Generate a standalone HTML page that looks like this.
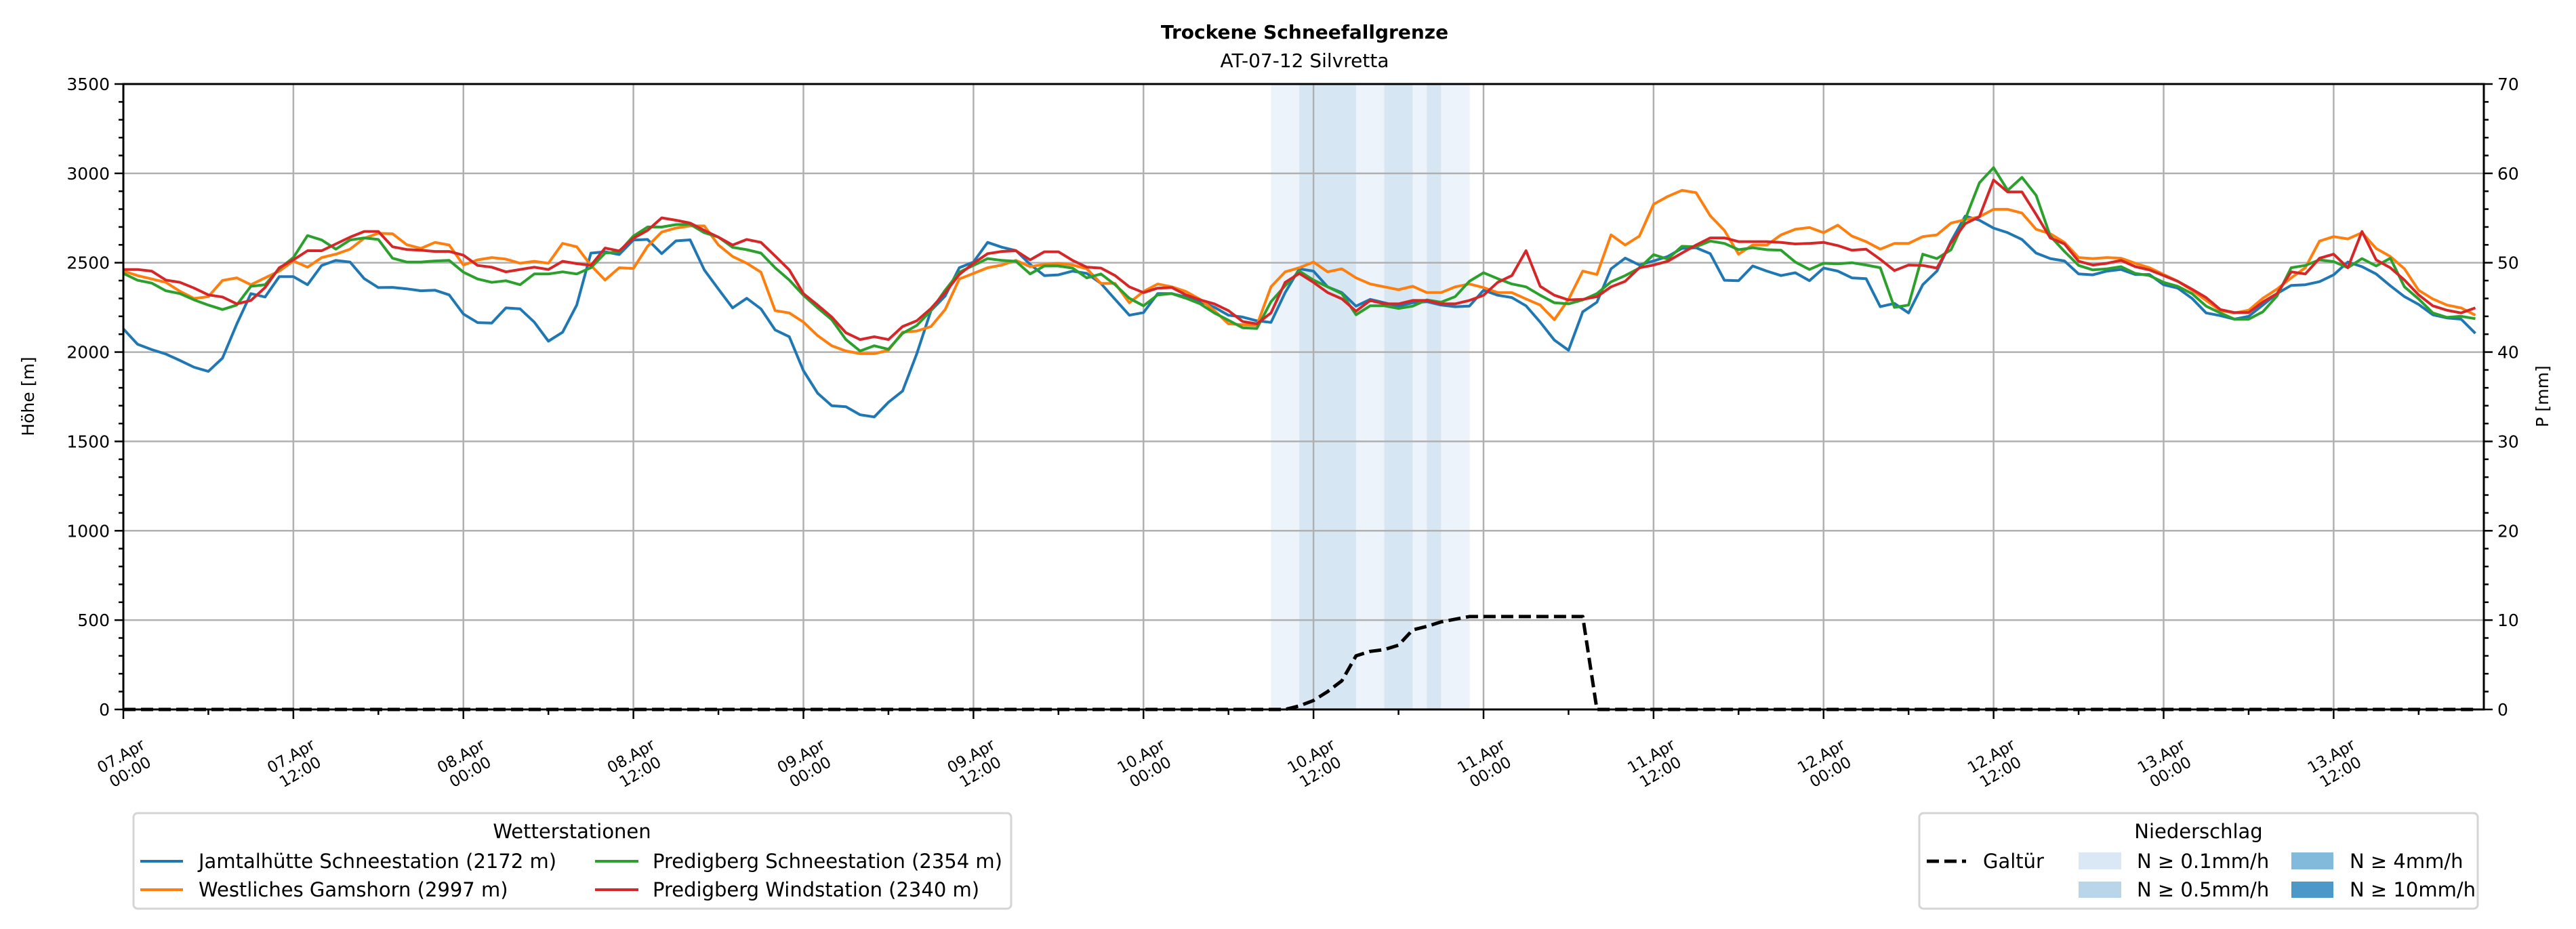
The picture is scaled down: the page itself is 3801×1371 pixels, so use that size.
<!DOCTYPE html>
<html><head><meta charset="utf-8">
<style>
html,body{margin:0;padding:0;background:#fff;}
svg{display:block;font-family:"DejaVu Sans","Liberation Sans",sans-serif;}
</style></head>
<body>
<svg id="chart" xmlns="http://www.w3.org/2000/svg" width="3801" height="1371" viewBox="0 0 3801 1371">
<rect x="0" y="0" width="3801" height="1371" fill="#fff"/>
<text x="1925" y="57" text-anchor="middle" font-size="28" font-weight="bold">Trockene Schneefallgrenze</text>
<text x="1925" y="99" text-anchor="middle" font-size="28">AT-07-12 Silvretta</text>
<g id="bands"></g>
<g id="grid"></g>
<g id="series"></g>
<g id="axes"></g>
<text transform="translate(50,585) rotate(-90)" text-anchor="middle" font-size="25">Höhe [m]</text>
<text transform="translate(3760,585) rotate(-90)" text-anchor="middle" font-size="25">P [mm]</text>

<g>
<rect x="197" y="1200" width="1295" height="141" rx="6" fill="#fff" stroke="#d5d5d5" stroke-width="3"/>
<text x="844" y="1237" text-anchor="middle" font-size="29">Wetterstationen</text>
<g><line x1="207" y1="1271" x2="270" y2="1271" stroke="#1f77b4" stroke-width="4"/><text x="293" y="1281" font-size="29">Jamtalhütte Schneestation (2172 m)</text></g>
<g><line x1="207" y1="1313" x2="270" y2="1313" stroke="#ff7f0e" stroke-width="4"/><text x="293" y="1323" font-size="29">Westliches Gamshorn (2997 m)</text></g>
<g><line x1="878" y1="1271" x2="942" y2="1271" stroke="#2ca02c" stroke-width="4"/><text x="963" y="1281" font-size="29">Predigberg Schneestation (2354 m)</text></g>
<g><line x1="878" y1="1313" x2="942" y2="1313" stroke="#d62728" stroke-width="4"/><text x="963" y="1323" font-size="29">Predigberg Windstation (2340 m)</text></g>
</g>

<g>
<rect x="2832" y="1200" width="824" height="141" rx="6" fill="#fff" stroke="#d5d5d5" stroke-width="3"/>
<text x="3244" y="1237" text-anchor="middle" font-size="29">Niederschlag</text>
<g><line x1="2843" y1="1271" x2="2901" y2="1271" stroke="#000" stroke-width="5" stroke-dasharray="18,8"/><text x="2926" y="1281" font-size="29">Galtür</text></g>
<g><rect x="3067" y="1258" width="63" height="25" fill="#dae8f5"/><text x="3153" y="1281" font-size="29">N ≥ 0.1mm/h</text></g>
<g><rect x="3067" y="1301" width="63" height="24" fill="#b8d5ea"/><text x="3153" y="1323" font-size="29">N ≥ 0.5mm/h</text></g>
<g><rect x="3381" y="1258" width="62" height="25" fill="#82badb"/><text x="3467" y="1281" font-size="29">N ≥ 4mm/h</text></g>
<g><rect x="3381" y="1301" width="62" height="24" fill="#4b98c9"/><text x="3467" y="1323" font-size="29">N ≥ 10mm/h</text></g>
</g>
</svg>
<script>
const jamtal = [2130,2044,2014,1989,1953,1915,1892,1966,2156,2327,2308,2422,2422,2377,2485,2513,2504,2411,2361,2362,2354,2343,2346,2320,2213,2165,2162,2247,2242,2168,2061,2111,2263,2554,2561,2546,2627,2630,2551,2622,2628,2460,2352,2247,
2301,2242,2124,2086,1896,1770,1700,1694,1649,1637,1719,1782,1991,2232,2314,2472,2504,2614,2587,2568,2491,2428,2432,2453,2440,2384,2295,2206,2221,2327,2327,2308,2282,2251,2206,2196,2175,2166,2333,2466,2453,2365,2333,
2257,2295,2276,2257,2276,2282,2263,2254,2257,2346,2318,2305,2259,2168,2067,2010,2225,2279,2466,2526,2487,2510,2535,2580,2584,2551,2402,2399,2482,2453,2428,2444,2399,2470,2453,2415,2411,2254,2272,2219,2377,2453,2620,
2761,2738,2694,2668,2630,2554,2523,2510,2437,2432,2453,2462,2434,2434,2377,2358,2301,2219,2204,2184,2200,2263,2327,2373,2377,2394,2432,2504,2478,2437,2371,2310,2267,2209,2191,2184,2105];
const gamshorn = [2453,2428,2409,2390,2340,2300,2310,2401,2415,2377,2415,2453,2510,2475,2529,2548,2576,2637,2665,2662,2601,2580,2614,2599,2487,2516,2529,2520,2497,2508,2497,2608,2589,2485,2403,2472,2468,2592,2672,2694,2706,2706,2599,2535,
2497,2447,2232,2219,2168,2092,2035,2006,1991,1991,2010,2111,2118,2143,2238,2409,2440,2472,2487,2513,2478,2491,2497,2487,2466,2384,2384,2276,2339,2381,2365,2339,2295,2232,2158,2153,2149,2365,2449,2472,2504,2449,2466,
2415,2381,2365,2349,2368,2333,2333,2365,2381,2361,2333,2333,2297,2263,2181,2295,2453,2434,2656,2599,2649,2827,2871,2905,2892,2763,2681,2548,2599,2599,2656,2687,2697,2668,2710,2649,2618,2576,2608,2608,2646,2656,2722,
2741,2757,2799,2799,2778,2687,2662,2614,2529,2523,2529,2525,2497,2472,2434,2396,2346,2289,2232,2219,2234,2301,2352,2415,2472,2621,2646,2633,2668,2580,2535,2466,2346,2297,2263,2247,2206];
const predigSchnee = [2440,2402,2386,2343,2327,2292,2263,2238,2263,2368,2377,2466,2529,2652,2627,2576,2627,2639,2630,2525,2504,2504,2510,2513,2447,2409,2390,2399,2377,2437,2437,2449,2437,2472,2554,2561,2649,2700,2700,2713,2715,2668,2643,2586,
2573,2554,2472,2403,2318,2247,2181,2070,2006,2035,2016,2105,2149,2232,2346,2447,2485,2523,2513,2508,2437,2482,2482,2470,2415,2437,2377,2301,2259,2320,2327,2301,2270,2219,2178,2136,2132,2282,2371,2453,2403,2365,2327,
2209,2259,2259,2244,2257,2292,2279,2310,2396,2444,2411,2381,2365,2318,2276,2270,2292,2327,2393,2428,2470,2545,2520,2592,2589,2621,2608,2573,2584,2573,2570,2504,2462,2497,2494,2500,2487,2472,2250,2263,2548,2523,2573,
2744,2947,3032,2905,2978,2877,2649,2563,2485,2460,2466,2478,2440,2428,2390,2368,2327,2257,2219,2184,2184,2225,2314,2472,2485,2516,2506,2472,2523,2482,2525,2365,2297,2219,2194,2200,2187];
const predigWind = [2462,2462,2453,2403,2390,2358,2320,2308,2270,2289,2361,2472,2516,2567,2567,2605,2643,2675,2675,2589,2574,2570,2563,2563,2542,2485,2475,2449,2462,2475,2462,2508,2495,2485,2582,2566,2637,2681,2751,2738,2722,2681,2643,2599,
2630,2614,2538,2460,2327,2263,2196,2108,2070,2086,2070,2143,2175,2244,2333,2434,2497,2551,2563,2567,2516,2561,2561,2513,2475,2470,2428,2365,2333,2358,2361,2320,2292,2270,2232,2171,2158,2219,2390,2440,2390,2333,2298,
2229,2289,2270,2270,2289,2289,2270,2270,2289,2318,2390,2428,2567,2368,2318,2292,2295,2310,2365,2396,2472,2487,2508,2554,2599,2639,2639,2618,2618,2618,2614,2605,2608,2614,2596,2570,2576,2519,2456,2487,2485,2470,2612,
2719,2757,2963,2896,2896,2770,2639,2605,2508,2487,2497,2513,2478,2460,2428,2396,2352,2305,2238,2221,2221,2280,2327,2449,2437,2525,2548,2472,2675,2516,2472,2403,2320,2259,2234,2219,2247];
const galtuerMM = [0,0,0,0,0,0,0,0,0,0,0,0,0,0,0,0,0,0,0,0,0,0,0,0,0,0,0,0,0,0,0,0,0,0,0,0,0,0,0,0,
0,0,0,0,0,0,0,0,0,0,0,0,0,0,0,0,0,0,0,0,0,0,0,0,0,0,0,0,0,0,0,0,0,0,0,0,0,0,0,0,0,0,0,
0.4,1.0,2.0,3.2,6.0,6.5,6.7,7.2,8.9,9.3,9.8,10.1,10.4,10.4,10.4,10.4,10.4,10.4,10.4,10.4,10.4,
0,0,0,0,0,0,0,0,0,0,0,0,0,0,0,0,0,0,0,0,0,0,0,0,0,0,0,0,0,0,0,0,0,0,0,0,0,0,0,0,0,0,0,0,0,0,0,0,0,0,0,0,0,0,0,0,0,0,0,0,0,0,0];
const precipHours = [82,83,84,85,86,87,88,89,90,91,92,93,94,95];
const precipValues = [0.2,0.2,1,1,1,1,0.3,0.3,1,1,0.2,1,0.2,0.2];
const yTicks = [0,500,1000,1500,2000,2500,3000,3500];
const y2TickLabels = ["0","10","20","30","40","50","60","70"];
const xTickHours = [0,12,24,36,48,60,72,84,96,108,120,132,144,156];
const xTickDays = ["07.Apr","07.Apr","08.Apr","08.Apr","09.Apr","09.Apr","10.Apr","10.Apr","11.Apr","11.Apr","12.Apr","12.Apr","13.Apr","13.Apr"];
const xTickTimes = ["00:00","12:00","00:00","12:00","00:00","12:00","00:00","12:00","00:00","12:00","00:00","12:00","00:00","12:00"];

const NS='http://www.w3.org/2000/svg';
const L=182,R=3665,T=124,B=1047,HMAX=166.6,YMAX=3500;
const xs=h=>L+(R-L)*h/HMAX;
const ys=v=>B-(B-T)*v/YMAX;
const ys2=mm=>ys(mm*50);
function mk(tag,attrs,parent){const e=document.createElementNS(NS,tag);for(const k in attrs)e.setAttribute(k,attrs[k]);parent.appendChild(e);return e;}
const gB=document.getElementById('bands'),gG=document.getElementById('grid'),gS=document.getElementById('series'),gA=document.getElementById('axes');

precipHours.forEach((h,i)=>{
  const v=precipValues[i];
  const col=v>=10?'#a9cde6':v>=4?'#c0dbee':v>=0.5?'#d6e6f3':'#edf3fa';
  const r=mk('rect',{x:xs(h-1),y:T,width:xs(h)-xs(h-1)+0.5,height:B-T,fill:col},gB);
  
  
});
yTicks.forEach(v=>{const l=mk('line',{x1:L,x2:R,y1:ys(v),y2:ys(v),stroke:'#b0b0b0','stroke-width':2.5},gG);
  });
xTickHours.forEach(h=>{const l=mk('line',{x1:xs(h),x2:xs(h),y1:T,y2:B,stroke:'#b0b0b0','stroke-width':2.5},gG);
  });

function line(arr,color,name,dash,w){
  const pts=arr.map((v,i)=>xs(i).toFixed(1)+','+(dash?ys2(v):ys(v)).toFixed(1)).join(' ');
  const p=mk('polyline',{points:pts,fill:'none',stroke:color,'stroke-width':w,'stroke-linejoin':'round'},gS);
  if(dash)p.setAttribute('stroke-dasharray',dash);
  
  
}
line(jamtal,'#1f77b4','line-jamtal',null,4);
line(gamshorn,'#ff7f0e','line-gamshorn',null,4);
line(predigSchnee,'#2ca02c','line-predigberg-schnee',null,4);
line(predigWind,'#d62728','line-predigberg-wind',null,4);
line(galtuerMM,'#000','line-galtuer','18,8',5);

const fr=mk('rect',{x:L,y:T,width:R-L,height:B-T,fill:'none',stroke:'#000','stroke-width':3},gA);

for(let v=0;v<=YMAX;v+=100){
  const major=v%500===0,len=major?13:7;
  mk('line',{x1:L-len,x2:L,y1:ys(v),y2:ys(v),stroke:'#000','stroke-width':2.5},gA);
  mk('line',{x1:R,x2:R+len,y1:ys(v),y2:ys(v),stroke:'#000','stroke-width':2.5},gA);
}
yTicks.forEach((v,i)=>{
  const t=mk('text',{x:L-20,y:ys(v)+9,'text-anchor':'end','font-size':25},gA);t.textContent=String(v);
  
  const t2=mk('text',{x:R+20,y:ys(v)+9,'font-size':25},gA);t2.textContent=y2TickLabels[i];
  
});
for(let h=0;h<=HMAX;h+=6){
  const major=h%12===0;
  mk('line',{x1:xs(h),x2:xs(h),y1:B,y2:B+(major?14:8),stroke:'#000','stroke-width':2.5},gA);
}
xTickHours.forEach((h,i)=>{
  const cx=xs(h)+3,cy=1127;
  const g=mk('g',{transform:`translate(${cx},${cy}) rotate(-30)`},gA);
  
  
  const a=mk('text',{x:0,y:-5,'text-anchor':'middle','font-size':23},g);a.textContent=xTickDays[i];
  const b=mk('text',{x:0,y:22,'text-anchor':'middle','font-size':23},g);b.textContent=xTickTimes[i];
});
</script>
</body></html>
